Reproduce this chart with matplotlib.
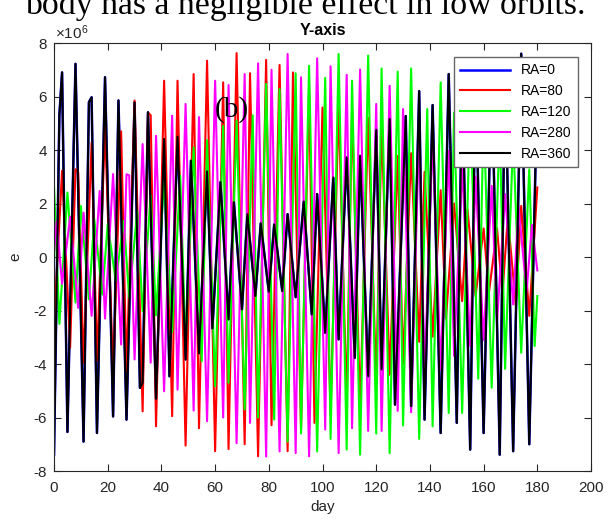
import matplotlib.pyplot as plt

plt.rcParams['font.family'] = ['Liberation Sans', 'DejaVu Sans']
plt.rcParams['axes.unicode_minus'] = False
plt.rcParams['mathtext.fontset'] = 'custom'
plt.rcParams['mathtext.rm'] = 'Liberation Sans'

# peaks and troughs (day, e in 1e6)
ra0_day = [0, 2, 3, 5, 8, 11, 13, 14, 16, 19, 22, 24, 27, 30, 32, 33, 35, 38, 41, 43,
           46, 49, 51, 54, 57, 59, 62, 65, 67, 70, 72, 75, 77, 80, 82, 85, 87, 90, 93, 96,
           98, 101, 104, 106, 109, 112, 114, 117, 120, 122, 125, 127, 131, 133, 136, 138,
           141, 144, 147, 150, 152, 155, 157, 160, 163, 166, 168, 171, 174, 177, 180]
ra0_val = [-7.39, 5.3, 6.9, -6.54, 7.22, -6.9, 5.79, 5.97, -6.58, 6.72, -5.96, 5.85, -6.08,
           5.78, -4.89, -4.7, 5.41, -5.3, 4.41, -4.46, 4.5, -3.83, 3.6, -3.6, 3.2, -2.67,
           2.8, -2.33, 2.05, -1.96, 1.6, -1.46, 1.26, -1.3, 1.22, -1.27, 1.6, -1.5, 2.07,
           -2.15, 2.35, -2.83, 2.97, -3.08, 3.72, -3.77, 3.78, -4.46, 4.75, -4.2, 5.16,
           -5.52, 5.27, -5.58, 6.2, -6.08, 5.68, -6.58, 6.84, -6.2, 6.6, -7.2, 7.0, -6.58,
           7.2, -7.39, 7.1, -7.26, 7.6, -7.0, 6.5]

# RA=360 lies on top of RA=0
ra360_day = ra0_day
ra360_val = ra0_val

ra80_day = [0, 3, 6, 8, 9, 11, 14, 16, 19, 22, 25, 27, 30, 33, 35, 36, 38, 41, 44, 46,
            49, 52, 54, 57, 60, 63, 65, 68, 71, 73, 76, 79, 81, 84, 87, 89, 92, 95, 97,
            100, 103, 106, 109, 111, 114, 117, 120, 122, 125, 128, 130, 133, 136, 138,
            141, 144, 146, 149, 152, 154, 157, 160, 162, 165, 167, 169, 172, 174, 177, 180]
ra80_val = [-2.52, 3.22, -3.39, 3.28, 3.16, -3.95, 4.28, -3.89, 4.9, -4.4, 4.7, -4.3,
            5.85, -5.77, 5.4, 5.3, -6.33, 6.59, -5.95, 6.59, -7.05, 6.84, -6.4, 7.34,
            -7.26, 6.53, -7.18, 7.62, -7.0, 6.87, -7.45, 7.37, -6.29, 7.18, -7.26, 6.9,
            -6.45, 6.3, -6.2, 5.59, -5.9, 5.7, -5.45, 5.5, -5.64, 5.2, -4.7, 4.94, -4.4,
            3.78, -4.0, 3.88, -3.17, 3.18, -2.98, 2.5, -2.3, 2.0, -1.65, 1.78, -1.46, 1.07,
            -1.31, 1.07, -1.4, 1.5, -1.83, 1.91, -2.2, 2.6]

ra120_day = [0, 2, 5, 8, 10, 13, 15, 18, 20, 23, 26, 28, 31, 33, 36, 38, 41, 44, 47, 49,
             52, 55, 57, 60, 63, 65, 68, 71, 74, 76, 79, 82, 84, 87, 90, 92, 95, 98, 101,
             103, 106, 109, 111, 114, 117, 120, 122, 125, 128, 130, 133, 136, 139, 141,
             144, 147, 149, 152, 155, 158, 160, 163, 166, 168, 171, 174, 177, 179, 180]
ra120_val = [2.66, -2.5, 2.41, -1.7, 1.91, -1.58, 1.41, -1.4, 1.23, -0.9, 1.35, -1.52,
             1.72, -2.02, 2.3, -2.18, 2.91, -2.8, 3.03, -3.33, 4.1, -3.9, 4.37, -4.83, 4.9,
             -4.7, 5.1, -5.7, 5.3, -6.0, 6.47, -6.08, 6.28, -6.9, 6.87, -6.6, 7.15, -7.27,
             6.7, -6.8, 7.59, -7.2, 6.59, -7.39, 7.53, -6.6, 7.05, -7.33, 6.93, -6.3, 7.05,
             -6.8, 5.53, -6.33, 6.53, -5.83, 5.4, -5.83, 5.8, -4.55, 5.5, -4.89, 5.0,
             -4.18, 4.5, -3.58, 3.28, -3.33, -1.46]

ra280_day = [0, 1, 3, 6, 9, 11, 14, 17, 19, 22, 25, 27, 28, 30, 33, 36, 38, 41, 44, 46,
             49, 52, 54, 57, 60, 63, 65, 68, 71, 73, 76, 79, 81, 84, 87, 90, 92, 95, 98,
             101, 103, 106, 109, 111, 114, 117, 120, 122, 125, 128, 130, 133, 136, 138,
             141, 144, 147, 149, 152, 155, 157, 160, 163, 165, 168, 171, 173, 176, 178, 180]
ra280_val = [0.16, 1.35, -1.0, 1.5, -1.9, 1.66, -2.2, 2.47, -2.3, 3.1, -3.27, 3.09, 3.05,
             -3.83, 4.22, -3.95, 4.53, -5.02, 5.28, -4.96, 5.72, -5.74, 5.23, -6.14, 6.59,
             -6.0, 6.43, -6.96, 6.84, -6.2, 7.24, -7.46, 7.0, -7.27, 7.59, -7.33, 6.72,
             -7.45, 7.43, -6.45, 7.13, -7.33, 6.81, -6.4, 7.01, -6.5, 5.72, -6.5, 6.4,
             -5.75, 5.53, -5.8, 4.8, -4.52, 4.5, -4.2, 3.97, -3.7, 3.4, -3.33, 3.0, -3.1,
             2.66, -2.4, 2.35, -1.77, 1.9, -1.3, 1.2, -0.5]

xticks = list(range(0, 201, 20))
yticks = list(range(-8, 9, 2))

fig = plt.figure(figsize=(6.11, 5.22), dpi=100)
ax = fig.add_axes([0.0884, 0.0977, 0.8789, 0.8199])

ax.plot(ra0_day, ra0_val, color=(0, 0, 1), lw=1.8, label='RA=0')
ax.plot(ra80_day, ra80_val, color=(1, 0, 0), lw=1.5, label='RA=80')
ax.plot(ra120_day, ra120_val, color=(0, 1, 0), lw=1.5, label='RA=120')
ax.plot(ra280_day, ra280_val, color=(1, 0, 1), lw=1.5, label='RA=280')
ax.plot(ra360_day, ra360_val, color=(0, 0, 0), lw=1.5, label='RA=360')

ax.set_xlim(0, 200)
ax.set_ylim(-8, 8)
ax.set_xticks(xticks)
ax.set_yticks(yticks)
ax.tick_params(direction='in', top=True, right=True, length=5, width=0.8,
               colors='0.15', labelsize=11)
ax.tick_params(axis='x', pad=7)
ax.tick_params(axis='y', pad=5)
for s in ax.spines.values():
    s.set_color('0.15')
    s.set_linewidth(0.8)

ax.set_xlabel('day', fontsize=11, color='0.15', labelpad=4)
ax.set_ylabel('e', fontsize=11, color='0.15', labelpad=8)
ax.set_title('Y-axis', fontsize=11.5, fontweight='bold', pad=6)
ax.text(0.002, 1.002, r'$\mathregular{\times10^{6}}$', transform=ax.transAxes,
        ha='left', va='bottom', fontsize=11, color='0.15')

leg = ax.legend(loc='upper right', bbox_to_anchor=(0.976, 0.967), borderaxespad=0,
                fancybox=False, edgecolor='0.4', framealpha=1, fontsize=10,
                handlelength=3.6, labelspacing=0.5, borderpad=0.45)
leg.get_frame().set_linewidth(1.0)

ax.text(0.299, 0.828, '(b)', transform=ax.transAxes, fontsize=21,
        family='Liberation Serif', color='black')
fig.text(0.5, 1 - 14 / 522, 'body has a negligible effect in low orbits.',
         ha='center', va='baseline', fontsize=24.3, family='Liberation Serif')

fig.savefig('out.png', dpi=100)
